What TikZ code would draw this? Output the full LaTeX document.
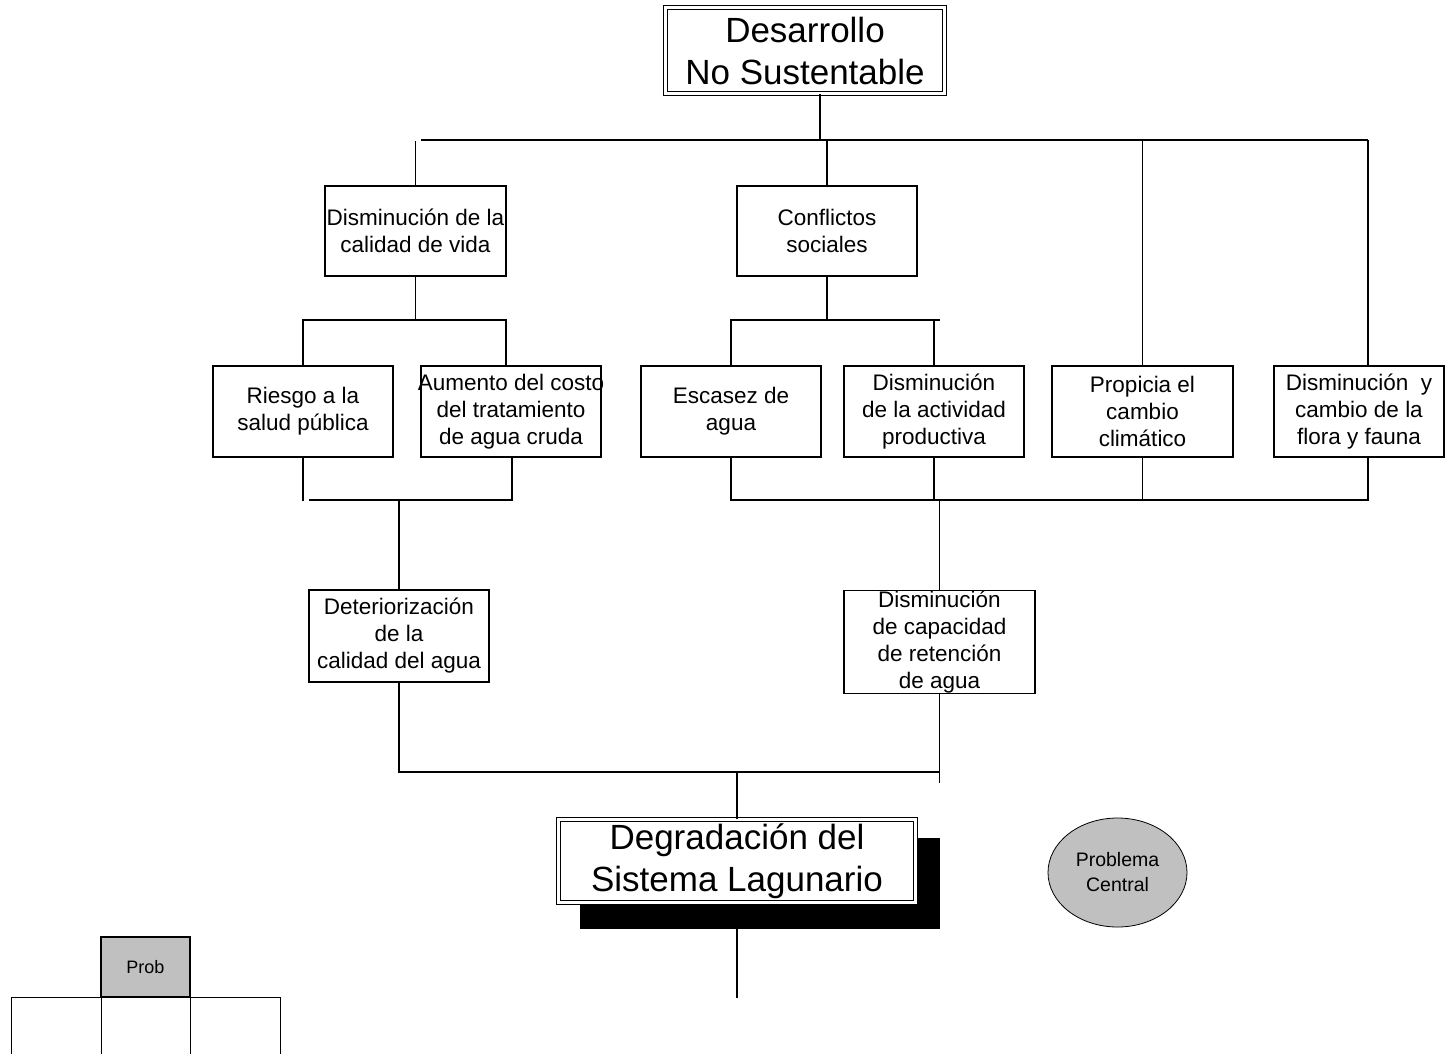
\documentclass[tikz,border=0pt]{standalone}
\usepackage{fontspec}
\setmainfont{Liberation Sans}
\usetikzlibrary{shapes.geometric}
\definecolor{lgray}{HTML}{C0C0C0}
\tikzset{
  box/.style={draw, line width=1.1pt, minimum width=180pt, minimum height=91pt, inner sep=0pt, align=center, font=\fontsize{22.5}{27}\selectfont},
  boxtext/.style={inner sep=0pt, align=center, font=\fontsize{22.5}{27}\selectfont},
  bigbox/.style={draw, double, double distance=2.6pt, line width=1.1pt, fill=white, inner sep=0pt, align=center, font=\fontsize{35}{42}\selectfont},
  conn/.style={line width=1.6pt},
  cell/.style={draw, line width=1.1pt}
}
\begin{document}
\begin{tikzpicture}[x=1pt,y=-1pt]
\useasboundingbox (0,0) rectangle (1446,1053);

% top box
\node[bigbox, minimum width=279pt, minimum height=86pt] (top) at (805,50.5) {Desarrollo\\No Sustentable};

% level 1
\node[box, minimum width=181pt, minimum height=90pt] (dcv) at (415.5,231) {Disminución de la\\calidad de vida};
\node[box, minimum height=90pt] (cs) at (827,231) {Conflictos\\sociales};

% level 2
\node[box] (rsp) at (303,411.5) {Riesgo a la\\salud pública};
\node[box] (act) at (511,411.5) {};
\node[boxtext] (actt) at (act.center) {Aumento del costo\\del tratamiento\\de agua cruda};
\node[box] (esc) at (731,411.5) {Escasez de\\agua};
\node[box] (dap) at (934,411.5) {Disminución\\de la actividad\\productiva};
\node[box, minimum width=181pt] (pcc) at (1142.5,411.5) {Propicia el\\cambio\\climático};
\node[box, minimum width=170pt] (dfy) at (1359,411.5) {Disminución~~y\\cambio de la\\flora y fauna};

% level 3
\node[box, minimum height=92pt] (dca) at (399,636) {Deteriorización\\de la\\calidad del agua};
\node[box, minimum width=191pt, minimum height=102pt] (dcr) at (939.5,642) {Disminución\\de capacidad\\de retención\\de agua};

% coordinates of bus lines
\coordinate (c820) at (820,140);
\coordinate (b1L) at (421,140);
\coordinate (b1R) at (1368,140);
\coordinate (b2L) at (303,320);
\coordinate (b2R) at (506,320);
\coordinate (b3L) at (731,320);
\coordinate (b3R) at (940,320);
\coordinate (b4L) at (309,500);
\coordinate (b4R) at (512,500);
\coordinate (b5R) at (1368,500);
\coordinate (b6) at (940,772);

% bottom central problem
\fill (580,838) rectangle (940,929);
\draw[conn] (737,905) -- (737,998);
\node[bigbox, minimum width=357pt, minimum height=83pt] (deg) at (737,861) {Degradación del\\Sistema Lagunario};

% connectors top
\draw[conn] (c820 |- top.south) -- (c820);
\draw[conn] (b1L) -- (b1R);
\draw[conn] (dcv.north) -- ++(0,-44);
\draw[conn] (cs.north) -- (cs.north |- b1L);
\draw[conn] (pcc.north) -- (pcc.north |- b1L);
\draw[conn] (b1R) -- (b1R |- dfy.north);

% dcv bus
\draw[conn] (dcv.south) -- (dcv.south |- b2L);
\draw[conn] (rsp.north) -- (b2L) -- (b2R) -- (b2R |- act.north);

% cs bus
\draw[conn] (cs.south) -- (cs.south |- b3L);
\draw[conn] (esc.north) -- (b3L) -- (b3R);
\draw[conn] (dap.north) -- (dap.north |- b3L);

% lower left bus
\draw[conn] (rsp.south) -- ++(0,43);
\draw[conn] (b4L) -- (b4R) -- (b4R |- act.south);
\draw[conn] (dca.north) -- (dca.north |- b4L);

% lower right bus
\draw[conn] (esc.south) -- (esc.south |- b5R) -- (b5R) -- (b5R |- dfy.south);
\draw[conn] (dap.south) -- (dap.south |- b5R);
\draw[conn] (pcc.south) -- (pcc.south |- b5R);
\draw[conn] (dcr.north) -- (dcr.north |- b5R);

% bottom bus
\draw[conn] (dca.south) -- (dca.south |- b6) -- (b6);
\draw[conn] (dcr.south) -- ++(0,89);
\draw[conn] (deg.north) -- (deg.north |- b6);

% legend ellipse
\node[ellipse, draw, line width=0.8pt, fill=lgray, minimum width=139pt, minimum height=109pt, inner sep=0pt, align=center, font=\fontsize{19.5}{25}\selectfont] (pc) at (1117.5,872.5) {Problema\\Central};

% bottom-left small table
\node[cell, fill=lgray, minimum width=89pt, minimum height=60pt, inner sep=0pt, font=\fontsize{18}{20}\selectfont] (prob) at (145.5,967) {Prob};
\node[cell, minimum width=90pt, minimum height=70pt, inner sep=0pt, anchor=north west] (cl) at (11,997) {};
\node[cell, minimum width=89pt, minimum height=70pt, inner sep=0pt, anchor=north west] (cm) at (101,997) {};
\node[cell, minimum width=90pt, minimum height=70pt, inner sep=0pt, anchor=north west] (cr) at (190,997) {};
\end{tikzpicture}
\end{document}
